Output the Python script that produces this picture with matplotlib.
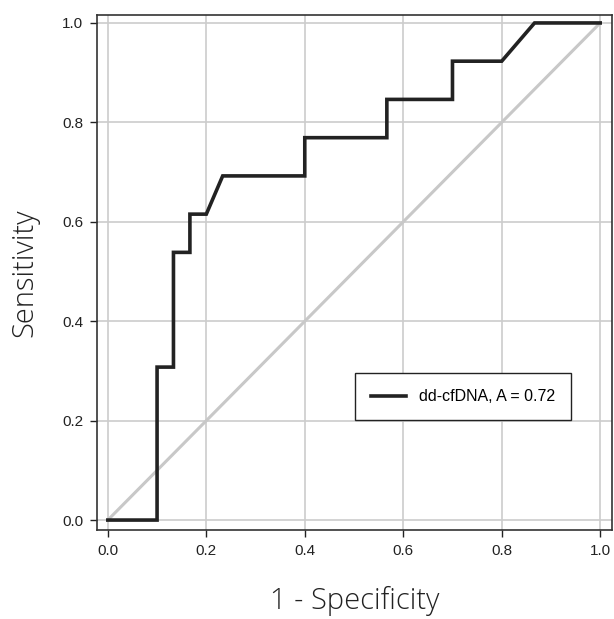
import numpy as np
import matplotlib.pyplot as plt

# ROC curve points (1 - specificity, sensitivity)
fpr = [0.0, 0.1, 0.1, 0.1333, 0.1333, 0.1667, 0.1667, 0.2, 0.2333, 0.4, 0.4,
       0.5667, 0.5667, 0.7, 0.7, 0.8, 0.8667, 1.0]
tpr = [0.0, 0.0, 0.3077, 0.3077, 0.5385, 0.5385, 0.6154, 0.6154, 0.6923, 0.6923,
       0.7692, 0.7692, 0.8462, 0.8462, 0.9231, 0.9231, 1.0, 1.0]
ticks = [0.0, 0.2, 0.4, 0.6, 0.8, 1.0]
label = "dd-cfDNA, A = 0.72"

fig = plt.figure(figsize=(6.14, 6.19), dpi=100)
ax = fig.add_axes([97 / 614, 1 - 530 / 619, 515 / 614, 515 / 619])

ax.grid(True, color='#cccccc', lw=1.2)
ax.set_axisbelow(True)
ax.plot([0, 1], [0, 1], color='#c8c8c8', lw=2.2, zorder=2)
ax.plot(fpr, tpr, color='#222222', lw=2.6, label=label, zorder=3,
        solid_joinstyle='miter')

ax.set_xlim(-0.022, 1.024)
ax.set_ylim(-0.02, 1.016)
ax.set_xticks(ticks)
ax.set_yticks(ticks)
ax.set_xticklabels([f"{t:.1f}" for t in ticks], family='Liberation Sans')
ax.set_yticklabels([f"{t:.1f}" for t in ticks], family='Liberation Sans')
ax.tick_params(direction='out', length=5, width=1, labelsize=11,
               colors='#222222', pad=5)
for s in ax.spines.values():
    s.set_color('#333333')
    s.set_linewidth(1.2)

ax.set_xlabel("1 - Specificity", family='Open Sans', fontweight='light',
              fontsize=21, color='#222222', labelpad=20)
ax.set_ylabel("Sensitivity", family='Open Sans', fontweight='light',
              fontsize=21, color='#222222', labelpad=16)

leg = ax.legend(loc='lower left', bbox_to_anchor=(0.501, 0.213), fancybox=False,
                framealpha=1, edgecolor='#222222', borderpad=1.0,
                borderaxespad=0, handlelength=2.2,
                prop={'family': 'Liberation Sans', 'size': 11.5})
leg.get_frame().set_linewidth(1.0)

plt.savefig('out.png', dpi=100)
